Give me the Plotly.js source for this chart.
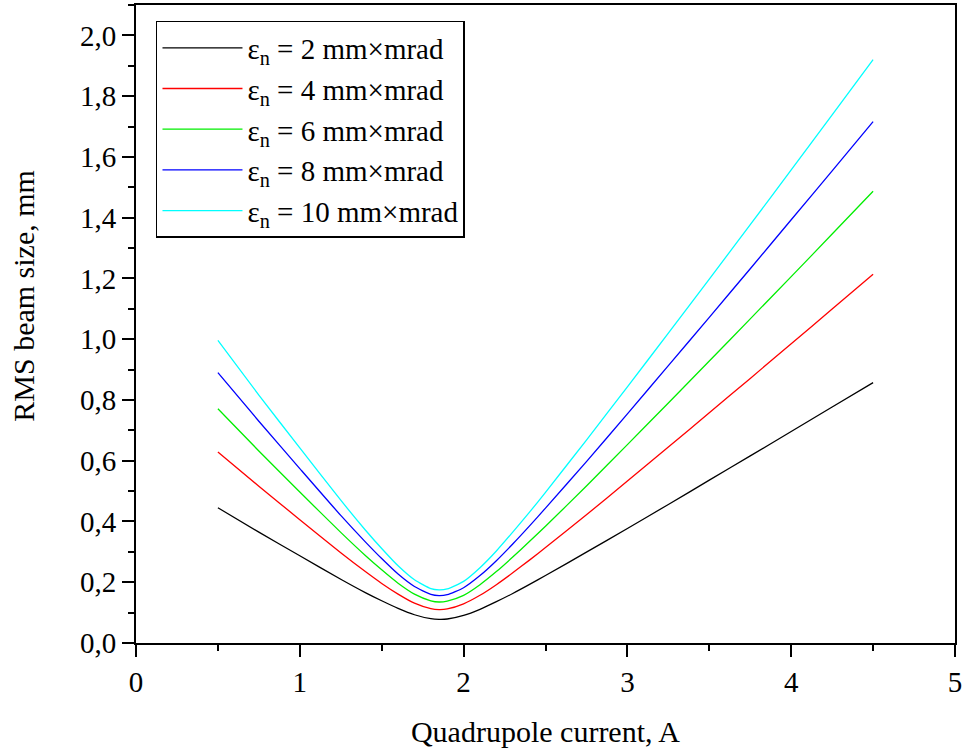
<!DOCTYPE html>
<html>
<head>
<meta charset="utf-8">
<script src="https://cdn.plot.ly/plotly-3.0.1.min.js"></script>
<style>html,body{margin:0;padding:0;background:#fff;}#chart{width:962px;height:753px;}</style>
</head>
<body>
<div id="chart"></div>
<script>
// Quadrupole current, A
var current = [0.5, 0.75, 1.0, 1.25, 1.4, 1.5, 1.6, 1.7, 1.8, 1.85, 1.9, 2.0, 2.1, 2.2, 2.3, 2.4, 2.5, 2.75, 3.0, 3.25, 3.5, 3.75, 4.0, 4.25, 4.5];
// RMS beam size, mm
var eps2  = [0.445, 0.365, 0.287, 0.210, 0.166, 0.139, 0.114, 0.093, 0.080, 0.078, 0.079, 0.091, 0.111, 0.136, 0.163, 0.192, 0.222, 0.299, 0.377, 0.456, 0.536, 0.616, 0.696, 0.777, 0.857];
var eps4  = [0.629, 0.516, 0.406, 0.297, 0.235, 0.196, 0.161, 0.131, 0.113, 0.110, 0.112, 0.129, 0.157, 0.192, 0.231, 0.272, 0.314, 0.422, 0.533, 0.645, 0.758, 0.871, 0.985, 1.099, 1.214];
var eps6  = [0.771, 0.632, 0.497, 0.364, 0.288, 0.241, 0.197, 0.161, 0.139, 0.135, 0.138, 0.157, 0.192, 0.235, 0.283, 0.333, 0.384, 0.517, 0.653, 0.790, 0.928, 1.067, 1.206, 1.346, 1.487];
var eps8  = [0.890, 0.730, 0.574, 0.420, 0.333, 0.278, 0.227, 0.186, 0.160, 0.156, 0.159, 0.182, 0.222, 0.271, 0.326, 0.384, 0.444, 0.597, 0.754, 0.913, 1.072, 1.232, 1.393, 1.554, 1.716];
var eps10 = [0.996, 0.816, 0.642, 0.470, 0.372, 0.311, 0.254, 0.208, 0.179, 0.175, 0.178, 0.203, 0.248, 0.303, 0.365, 0.429, 0.496, 0.668, 0.843, 1.020, 1.198, 1.377, 1.557, 1.738, 1.920];
var seriesNames = ['ε<sub>n</sub> = 2 mm×mrad', 'ε<sub>n</sub> = 4 mm×mrad', 'ε<sub>n</sub> = 6 mm×mrad', 'ε<sub>n</sub> = 8 mm×mrad', 'ε<sub>n</sub> = 10 mm×mrad'];
var seriesValues = [eps2, eps4, eps6, eps8, eps10];
var colors = ['#000000', '#ff0000', '#00ee00', '#0000ff', '#00ffff'];

var traces = seriesValues.map(function (v, i) {
  return {
    x: current, y: v, type: 'scatter', mode: 'lines', name: seriesNames[i],
    line: {color: colors[i], width: 1.3, shape: 'spline', smoothing: 0.6}
  };
});

var font = 'Liberation Serif, Times New Roman, serif';
var layout = {
  width: 962, height: 753,
  margin: {l: 136, r: 7, t: 5, b: 110},
  paper_bgcolor: '#fff', plot_bgcolor: '#fff',
  separators: ', ',
  font: {family: font, size: 29, color: '#000'},
  showlegend: true,
  legend: {
    x: 0.0244, y: 0.975, xanchor: 'left', yanchor: 'top',
    bordercolor: '#000', borderwidth: 1.5, bgcolor: '#fff',
    font: {family: font, size: 29, color: '#000'},
    itemwidth: 80, tracegroupgap: 0
  },
  xaxis: {
    range: [0, 5], dtick: 1, tick0: 0,
    showgrid: false, zeroline: false,
    showline: true, linecolor: '#000', linewidth: 2, mirror: true,
    ticks: 'outside', ticklen: 12, tickwidth: 2, tickcolor: '#000',
    minor: {dtick: 0.5, ticks: 'outside', ticklen: 6, tickwidth: 2, tickcolor: '#000', showgrid: false},
    tickfont: {family: font, size: 29},
    ticklabeloverflow: 'allow',
    automargin: false,
    title: {text: 'Quadrupole current, A', font: {family: font, size: 30}, standoff: 24}
  },
  yaxis: {
    range: [0, 2.1], dtick: 0.2, tick0: 0, tickformat: '.1f',
    showgrid: false, zeroline: false,
    showline: true, linecolor: '#000', linewidth: 2, mirror: true,
    ticks: 'outside', ticklen: 12, tickwidth: 2, tickcolor: '#000',
    minor: {dtick: 0.1, ticks: 'outside', ticklen: 6, tickwidth: 2, tickcolor: '#000', showgrid: false},
    tickfont: {family: font, size: 29},
    automargin: false
  },
  annotations: [{
    text: 'RMS beam size, mm', xref: 'paper', yref: 'paper',
    x: -0.137, y: 0.544, xanchor: 'center', yanchor: 'middle',
    textangle: -90, showarrow: false, font: {family: font, size: 30, color: '#000'}
  }]
};
Plotly.newPlot('chart', traces, layout, {displayModeBar: false, staticPlot: true});
</script>
</body>
</html>
